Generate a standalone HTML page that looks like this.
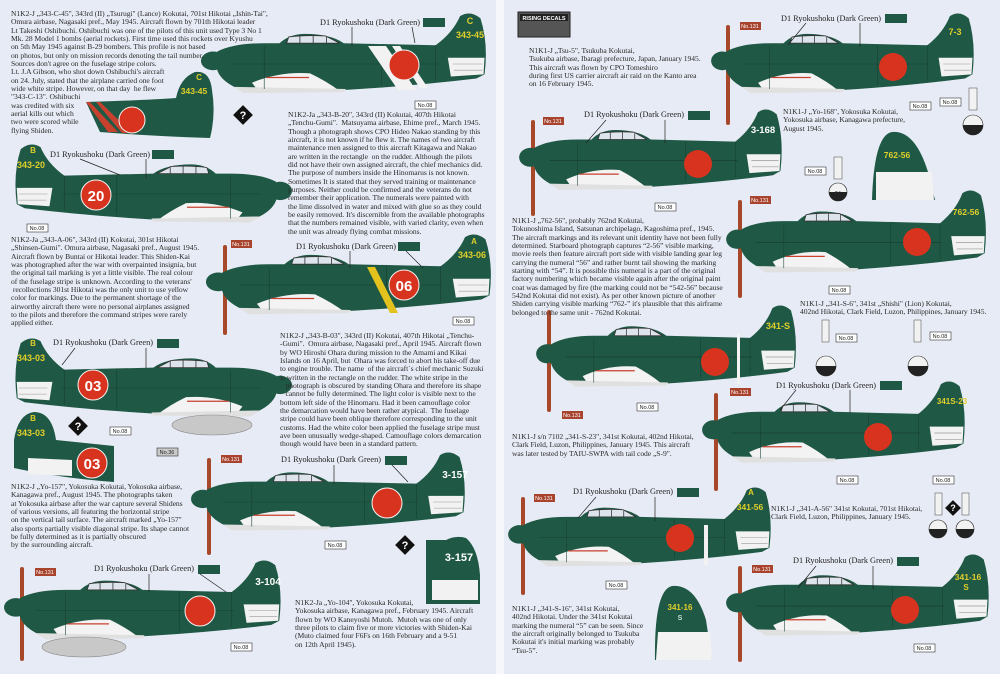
<!DOCTYPE html>
<html><head><meta charset="utf-8"><style>
html,body{margin:0;padding:0}
body{width:1000px;height:674px;position:relative;overflow:hidden;background:#e7ebf5;font-family:"Liberation Serif",serif}
.t{position:absolute;font-size:7.6px;line-height:8.35px;color:#2a2a2a;white-space:pre;letter-spacing:-0.05px}
svg{position:absolute;left:0;top:0}
</style></head><body>
<svg width="1000" height="674" viewBox="0 0 1000 674">
<defs>
<g id="pl">
<path d="M14,38 Q30,30 60,30 L75,30 Q85,21 100,21 Q125,21 138,30 L228,32 Q245,20 252,4 Q262,-2 272,6 Q280,30 276,60 L268,64 Q200,72 120,76 L40,76 Q18,68 14,56 Z" fill="#1f5845"/>
<path d="M82,30 L84,24 Q100,22 120,23 L134,30 Z" fill="#dde4ec" stroke="#333" stroke-width="0.8"/>
<path d="M95,23 V30 M108,23 V30 M121,24 V30" stroke="#333" stroke-width="0.8"/>
<path d="M48,68 Q75,57 105,59 Q122,67 134,76 L55,77 Z" fill="#f3f3f3"/>
<path d="M62,63 L104,63" stroke="#c8402e" stroke-width="1.2"/>
<path d="M30,72 L140,74 L138,77 L40,78 Z" fill="#e0e0e0"/>
<path d="M240,44 L276,44 L275,60 L243,62 Z" fill="#f2f2f2"/>
<path d="M245,50 H274 M246,56 H274" stroke="#999" stroke-width="0.6"/>
<path d="M60,33 V74 M175,32 V70 M228,32 V66 M30,50 H230" stroke="#173f33" stroke-width="0.6"/>
<ellipse cx="10" cy="47" rx="12" ry="9" fill="#1f5845"/>
</g>
<g id="q"><rect x="-7" y="-7" width="14" height="14" transform="rotate(45)" fill="#111"/><text x="0" y="4" font-family="Liberation Sans" font-weight="bold" font-size="11" fill="#fff" text-anchor="middle">?</text></g>
</defs>
<rect x="496" y="0" width="8" height="674" fill="#f6f7fb"/>

<use href="#pl" transform="translate(203,12) scale(1.02,1.04)"/>
<path d="M368,46 L386,46 L416,90 L398,90 Z M392,46 L400,46 L428,88 L420,88 Z" fill="#f2f2f2"/>
<circle cx="404" cy="65" r="15" fill="#d8331f" stroke="#f3f3f3" stroke-width="1"/>
<text x="470" y="24" font-family="Liberation Sans" font-weight="bold" font-size="9" fill="#e0cf2a" text-anchor="middle">C</text>
<text x="470" y="38" font-family="Liberation Sans" font-weight="bold" font-size="9" fill="#e0cf2a" text-anchor="middle">343-45</text>

<path d="M86,102 Q150,100 176,98 Q180,78 195,72 Q210,70 212,90 Q216,115 210,138 Q150,136 100,132 Z" fill="#1f5845"/>
<path d="M86,102 L90,102 L118,132 L108,132 Z M96,102 L100,102 L132,133 L122,133 Z" fill="#c8402e"/>
<circle cx="132" cy="120" r="13" fill="#d8331f" stroke="#f3f3f3" stroke-width="1"/>
<text x="199" y="80" font-family="Liberation Sans" font-weight="bold" font-size="8" fill="#e0cf2a" text-anchor="middle">C</text>
<text x="194" y="94" font-family="Liberation Sans" font-weight="bold" font-size="8.5" fill="#e0cf2a" text-anchor="middle">343-45</text>
<use href="#q" transform="translate(243,115)"/>

<use href="#pl" transform="translate(290,143) scale(-0.99,1.02)"/>
<circle cx="96" cy="195" r="15" fill="#d8331f" stroke="#f3f3f3" stroke-width="1"/>
<text x="96" y="201" font-family="Liberation Sans" font-weight="bold" font-size="15" fill="#fff" text-anchor="middle">20</text>
<text x="33" y="153" font-family="Liberation Sans" font-weight="bold" font-size="8" fill="#e0cf2a" text-anchor="middle">B</text>
<text x="31" y="168" font-family="Liberation Sans" font-weight="bold" font-size="9" fill="#e0cf2a" text-anchor="middle">343-20</text>

<rect x="223" y="245" width="4" height="90" rx="2" fill="#a8482a"/>
<use href="#pl" transform="translate(208,233) scale(1.02,1.04)"/>
<path d="M367,267 L375,267 L398,313 L390,313 Z" fill="#e3c21e"/>
<circle cx="404" cy="285" r="15" fill="#d8331f" stroke="#f3f3f3" stroke-width="1"/>
<text x="404" y="291" font-family="Liberation Sans" font-weight="bold" font-size="15" fill="#fff" text-anchor="middle">06</text>
<text x="474" y="244" font-family="Liberation Sans" font-weight="bold" font-size="8" fill="#e0cf2a" text-anchor="middle">A</text>
<text x="472" y="258" font-family="Liberation Sans" font-weight="bold" font-size="9" fill="#e0cf2a" text-anchor="middle">343-06</text>

<use href="#pl" transform="translate(290,337) scale(-0.99,1.02)"/>
<ellipse cx="212" cy="425" rx="40" ry="10" fill="#c8c8c8" stroke="#888" stroke-width="0.6"/>
<circle cx="93" cy="385" r="15" fill="#d8331f" stroke="#f3f3f3" stroke-width="1"/>
<text x="93" y="391" font-family="Liberation Sans" font-weight="bold" font-size="15" fill="#fff" text-anchor="middle">03</text>
<text x="33" y="346" font-family="Liberation Sans" font-weight="bold" font-size="8" fill="#e0cf2a" text-anchor="middle">B</text>
<text x="31" y="361" font-family="Liberation Sans" font-weight="bold" font-size="9" fill="#e0cf2a" text-anchor="middle">343-03</text>

<path d="M14,440 Q18,414 34,412 Q52,412 56,440 L114,446 L114,482 Q60,478 14,468 Z" fill="#1f5845"/>
<path d="M28,458 L72,460 L72,476 L28,474 Z" fill="#f2f2f2"/>
<circle cx="92" cy="463" r="15" fill="#d8331f" stroke="#f3f3f3" stroke-width="1"/>
<text x="92" y="469" font-family="Liberation Sans" font-weight="bold" font-size="15" fill="#fff" text-anchor="middle">03</text>
<text x="33" y="421" font-family="Liberation Sans" font-weight="bold" font-size="8" fill="#e0cf2a" text-anchor="middle">B</text>
<text x="31" y="436" font-family="Liberation Sans" font-weight="bold" font-size="9" fill="#e0cf2a" text-anchor="middle">343-03</text>
<use href="#q" transform="translate(78,426)"/>

<rect x="207" y="458" width="4" height="97" rx="2" fill="#a8482a"/>
<use href="#pl" transform="translate(193,451) scale(0.98,1.02)"/>
<circle cx="387" cy="503" r="15" fill="#d8331f" stroke="#f3f3f3" stroke-width="1"/>
<text x="455" y="478" font-family="Liberation Sans" font-weight="bold" font-size="10" fill="#fff" text-anchor="middle">3-157</text>
<use href="#q" transform="translate(405,545)"/>
<path d="M426,540 L446,540 Q456,535 466,538 Q478,548 480,575 L480,604 L426,604 Z" fill="#1f5845"/>
<path d="M432,580 L478,580 L478,600 L432,600 Z" fill="#f2f2f2"/>
<text x="459" y="561" font-family="Liberation Sans" font-weight="bold" font-size="11" fill="#fff" text-anchor="middle">3-157</text>

<rect x="20" y="567" width="4" height="94" rx="2" fill="#a8482a"/>
<use href="#pl" transform="translate(6,559) scale(0.99,1.03)"/>
<ellipse cx="84" cy="647" rx="42" ry="10" fill="#c8c8c8" stroke="#888" stroke-width="0.6"/>
<circle cx="200" cy="611" r="15" fill="#d8331f" stroke="#f3f3f3" stroke-width="1"/>
<text x="268" y="585" font-family="Liberation Sans" font-weight="bold" font-size="10" fill="#fff" text-anchor="middle">3-104</text>

<rect x="518" y="12" width="52" height="25" fill="#555" stroke="#222"/>
<rect x="520" y="14" width="48" height="7" fill="#222"/>
<text x="544" y="20" font-family="Liberation Sans" font-weight="bold" font-size="5.5" fill="#fff" text-anchor="middle">RISING DECALS</text>

<rect x="726" y="25" width="4" height="100" rx="2" fill="#a8482a"/>
<use href="#pl" transform="translate(713,12) scale(0.94,1.04)"/>
<circle cx="893" cy="67" r="14" fill="#d8331f"/>
<text x="955" y="35" font-family="Liberation Sans" font-weight="bold" font-size="9" fill="#e0cf2a" text-anchor="middle">7-3</text>

<rect x="531" y="120" width="4" height="96" rx="2" fill="#a8482a"/>
<use href="#pl" transform="translate(521,108) scale(0.94,1.05)"/>
<circle cx="698" cy="164" r="14" fill="#d8331f"/>
<text x="763" y="133" font-family="Liberation Sans" font-weight="bold" font-size="9.5" fill="#fff" text-anchor="middle">3-168</text>

<path d="M872,200 Q874,135 892,132 Q915,130 928,172 L935,200 Z" fill="#1f5845"/>
<path d="M876,172 L932,172 L934,200 L876,200 Z" fill="#f2f2f2"/>
<text x="897" y="158" font-family="Liberation Sans" font-weight="bold" font-size="8.5" fill="#e0cf2a" text-anchor="middle">762-56</text>
<rect x="834" y="157" width="8" height="22" fill="#f2f2f2" stroke="#444" stroke-width="0.5"/>
<circle cx="838" cy="192" r="9" fill="#f2f2f2" stroke="#222" stroke-width="0.6"/>
<path d="M829,192 A9,9 0 0 0 847,192 Z" fill="#222"/>
<text x="838" y="196" font-family="Liberation Sans" font-weight="bold" font-size="6" fill="#222" text-anchor="middle">56</text>
<rect x="969" y="88" width="8" height="22" fill="#f2f2f2" stroke="#444" stroke-width="0.5"/>
<circle cx="973" cy="125" r="10" fill="#f2f2f2" stroke="#222" stroke-width="0.6"/>
<path d="M963,125 A10,10 0 0 0 983,125 Z" fill="#222"/>

<rect x="738" y="200" width="4" height="98" rx="2" fill="#a8482a"/>
<use href="#pl" transform="translate(728,189) scale(0.93,1.07)"/>
<circle cx="917" cy="242" r="14" fill="#d8331f"/>
<text x="966" y="215" font-family="Liberation Sans" font-weight="bold" font-size="8.5" fill="#e0cf2a" text-anchor="middle">762-56</text>

<rect x="547" y="310" width="4" height="102" rx="2" fill="#a8482a"/>
<use href="#pl" transform="translate(538,304) scale(0.93,1.06)"/>
<path d="M737,334 L740,334 L740,384 L737,384 Z" fill="#f2f2f2"/>
<circle cx="715" cy="362" r="14" fill="#d8331f"/>
<text x="778" y="329" font-family="Liberation Sans" font-weight="bold" font-size="9" fill="#e0cf2a" text-anchor="middle">341-S</text>
<rect x="822" y="320" width="7" height="22" fill="#f2f2f2" stroke="#444" stroke-width="0.5"/>
<circle cx="826" cy="366" r="10" fill="#f2f2f2" stroke="#222" stroke-width="0.6"/>
<path d="M816,366 A10,10 0 0 0 836,366 Z" fill="#222"/>
<rect x="914" y="320" width="7" height="22" fill="#f2f2f2" stroke="#444" stroke-width="0.5"/>
<circle cx="918" cy="366" r="10" fill="#f2f2f2" stroke="#222" stroke-width="0.6"/>
<path d="M908,366 A10,10 0 0 0 928,366 Z" fill="#222"/>

<rect x="714" y="393" width="4" height="98" rx="2" fill="#a8482a"/>
<use href="#pl" transform="translate(704,380) scale(0.94,1.06)"/>
<circle cx="878" cy="437" r="14" fill="#d8331f"/>
<text x="952" y="404" font-family="Liberation Sans" font-weight="bold" font-size="8" fill="#e0cf2a" text-anchor="middle">341S-23</text>

<rect x="521" y="497" width="4" height="98" rx="2" fill="#a8482a"/>
<use href="#pl" transform="translate(510,486) scale(0.94,1.03)"/>
<path d="M704,525 L708,525 L708,565 L704,565 Z" fill="#f2f2f2"/>
<circle cx="680" cy="538" r="14" fill="#d8331f"/>
<text x="751" y="495" font-family="Liberation Sans" font-weight="bold" font-size="8" fill="#e0cf2a" text-anchor="middle">A</text>
<text x="750" y="510" font-family="Liberation Sans" font-weight="bold" font-size="8.5" fill="#e0cf2a" text-anchor="middle">341-56</text>
<rect x="935" y="493" width="7" height="22" fill="#f2f2f2" stroke="#444" stroke-width="0.5"/>
<circle cx="938" cy="529" r="9" fill="#f2f2f2" stroke="#222" stroke-width="0.6"/>
<path d="M929,529 A9,9 0 0 0 947,529 Z" fill="#222"/>
<rect x="962" y="493" width="7" height="22" fill="#f2f2f2" stroke="#444" stroke-width="0.5"/>
<circle cx="965" cy="529" r="9" fill="#f2f2f2" stroke="#222" stroke-width="0.6"/>
<path d="M956,529 A9,9 0 0 0 974,529 Z" fill="#222"/>
<use href="#q" transform="translate(953,508) scale(0.8)"/>

<rect x="738" y="566" width="4" height="96" rx="2" fill="#a8482a"/>
<use href="#pl" transform="translate(728,553) scale(0.94,1.06)"/>
<circle cx="905" cy="610" r="14" fill="#d8331f"/>
<text x="968" y="580" font-family="Liberation Sans" font-weight="bold" font-size="8.5" fill="#e0cf2a" text-anchor="middle">341-16</text>
<text x="966" y="590" font-family="Liberation Sans" font-weight="bold" font-size="8" fill="#e0cf2a" text-anchor="middle">S</text>

<path d="M655,660 Q654,590 672,586 Q695,584 706,620 L712,660 Z" fill="#1f5845"/>
<path d="M658,632 L710,632 L712,660 L656,660 Z" fill="#f2f2f2"/>
<text x="680" y="610" font-family="Liberation Sans" font-weight="bold" font-size="8" fill="#e0cf2a" text-anchor="middle">341-16</text>
<text x="680" y="620" font-family="Liberation Sans" font-weight="bold" font-size="7" fill="#bfe0d0" text-anchor="middle">S</text>

<g font-family="Liberation Serif" font-size="8.5" fill="#222">
<text x="320" y="25" textLength="100" lengthAdjust="spacingAndGlyphs">D1 Ryokushoku (Dark Green)</text><rect x="423" y="18" width="22" height="9" fill="#1f5845"/><path d="M352,27 V46 M412,27 L415,43" stroke="#222" stroke-width="0.7"/>
<text x="50" y="157" textLength="100" lengthAdjust="spacingAndGlyphs">D1 Ryokushoku (Dark Green)</text><rect x="152" y="150" width="22" height="9" fill="#1f5845"/><path d="M146,159 V178 M80,159 L120,175" stroke="#222" stroke-width="0.7"/>
<text x="296" y="249" textLength="100" lengthAdjust="spacingAndGlyphs">D1 Ryokushoku (Dark Green)</text><rect x="398" y="242" width="22" height="9" fill="#1f5845"/><path d="M350,251 V268 M406,251 L423,268" stroke="#222" stroke-width="0.7"/>
<text x="53" y="345" textLength="100" lengthAdjust="spacingAndGlyphs">D1 Ryokushoku (Dark Green)</text><rect x="157" y="339" width="22" height="9" fill="#1f5845"/><path d="M146,348 V368 M75,348 L62,365" stroke="#222" stroke-width="0.7"/>
<text x="281" y="462" textLength="100" lengthAdjust="spacingAndGlyphs">D1 Ryokushoku (Dark Green)</text><rect x="385" y="456" width="22" height="9" fill="#1f5845"/><path d="M334,465 V484 M392,465 L408,482" stroke="#222" stroke-width="0.7"/>
<text x="94" y="571" textLength="100" lengthAdjust="spacingAndGlyphs">D1 Ryokushoku (Dark Green)</text><rect x="198" y="565" width="22" height="9" fill="#1f5845"/><path d="M149,574 V592 M200,574 L226,592" stroke="#222" stroke-width="0.7"/>
<text x="781" y="21" textLength="100" lengthAdjust="spacingAndGlyphs">D1 Ryokushoku (Dark Green)</text><rect x="885" y="14" width="22" height="9" fill="#1f5845"/><path d="M860,23 V47 M806,23 L788,45" stroke="#222" stroke-width="0.7"/>
<text x="584" y="117" textLength="100" lengthAdjust="spacingAndGlyphs">D1 Ryokushoku (Dark Green)</text><rect x="688" y="111" width="22" height="9" fill="#1f5845"/><path d="M665,120 V143 M606,120 L586,143" stroke="#222" stroke-width="0.7"/>
<text x="776" y="388" textLength="100" lengthAdjust="spacingAndGlyphs">D1 Ryokushoku (Dark Green)</text><rect x="880" y="381" width="22" height="9" fill="#1f5845"/><path d="M850,390 V413 M796,390 L780,410" stroke="#222" stroke-width="0.7"/>
<text x="573" y="494" textLength="100" lengthAdjust="spacingAndGlyphs">D1 Ryokushoku (Dark Green)</text><rect x="677" y="488" width="22" height="9" fill="#1f5845"/><path d="M655,497 V521 M596,497 L578,518" stroke="#222" stroke-width="0.7"/>
<text x="793" y="563" textLength="100" lengthAdjust="spacingAndGlyphs">D1 Ryokushoku (Dark Green)</text><rect x="897" y="557" width="22" height="9" fill="#1f5845"/><path d="M873,566 V589 M816,566 L798,588" stroke="#222" stroke-width="0.7"/>
</g>

<g font-family="Liberation Sans" font-size="5.5" text-anchor="middle">
<g fill="#fff" stroke="#333" stroke-width="0.6"><rect x="415" y="101" width="21" height="8"/><rect x="27" y="224" width="21" height="8"/><rect x="453" y="317" width="21" height="8"/><rect x="110" y="427" width="21" height="8"/><rect x="325" y="541" width="21" height="8"/><rect x="231" y="643" width="21" height="8"/><rect x="910" y="102" width="21" height="8"/><rect x="940" y="98" width="21" height="8"/><rect x="655" y="203" width="21" height="8"/><rect x="805" y="167" width="21" height="8"/><rect x="829" y="286" width="21" height="8"/><rect x="637" y="403" width="21" height="8"/><rect x="837" y="476" width="21" height="8"/><rect x="933" y="476" width="21" height="8"/><rect x="606" y="581" width="21" height="8"/><rect x="914" y="644" width="21" height="8"/><rect x="836" y="334" width="21" height="8"/><rect x="930" y="332" width="21" height="8"/></g>
<rect x="157" y="448" width="21" height="8" fill="#c9c9c9" stroke="#333" stroke-width="0.6"/>
<g fill="#222"><text x="425" y="107">No.08</text><text x="37" y="230">No.08</text><text x="463" y="323">No.08</text><text x="120" y="433">No.08</text><text x="335" y="547">No.08</text><text x="241" y="649">No.08</text><text x="920" y="108">No.08</text><text x="950" y="104">No.08</text><text x="665" y="209">No.08</text><text x="815" y="173">No.08</text><text x="839" y="292">No.08</text><text x="647" y="409">No.08</text><text x="847" y="482">No.08</text><text x="943" y="482">No.08</text><text x="616" y="587">No.08</text><text x="924" y="650">No.08</text><text x="846" y="340">No.08</text><text x="940" y="338">No.08</text><text x="167" y="454">No.36</text></g>
<g fill="#a8432e"><rect x="231" y="240" width="21" height="8"/><rect x="221" y="455" width="21" height="8"/><rect x="35" y="568" width="21" height="8"/><rect x="740" y="22" width="21" height="8"/><rect x="543" y="117" width="21" height="8"/><rect x="750" y="196" width="21" height="8"/><rect x="562" y="411" width="21" height="8"/><rect x="730" y="388" width="21" height="8"/><rect x="534" y="494" width="21" height="8"/><rect x="752" y="565" width="21" height="8"/></g>
<g fill="#fff"><text x="241" y="246">No.131</text><text x="231" y="461">No.131</text><text x="45" y="574">No.131</text><text x="750" y="28">No.131</text><text x="553" y="123">No.131</text><text x="760" y="202">No.131</text><text x="572" y="417">No.131</text><text x="740" y="394">No.131</text><text x="544" y="500">No.131</text><text x="762" y="571">No.131</text></g>
</g>
</svg>

<div class="t" style="left:11px;top:10px">N1K2-J „343-C-45", 343rd (II) „Tsurugi" (Lance) Kokutai, 701st Hikotai „Ishin-Tai",
Omura airbase, Nagasaki pref., May 1945. Aircraft flown by 701th Hikotai leader
Lt Takeshi Oshibuchi. Oshibuchi was one of the pilots of this unit used Type 3 No 1
Mk. 28 Model 1 bombs (aerial rockets). First time used this rockets over Kyushu
on 5th May 1945 against B-29 bombers. This profile is not based
on photos, but only on mission records denoting the tail number.
Sources don't agree on the fuselage stripe colors.
Lt. J.A Gibson, who shot down Oshibuchi's aircraft
on 24. July, stated that the airplane carried one foot
wide white stripe. However, on that day  he flew
"343-C-13". Oshibuchi
was credited with six
aerial kills out which
two were scored while
flying Shiden.</div>

<div class="t" style="left:288px;top:111px">N1K2-Ja „343-B-20", 343rd (II) Kokutai, 407th Hikotai
„Tenchu-Gumi".  Matsuyama airbase, Ehime pref., March 1945.
Though a photograph shows CPO Hideo Nakao standing by this
aircraft, it is not known if he flew it. The names of two aircraft
maintenance men assigned to this aircraft Kitagawa and Nakao
are written in the rectangle  on the rudder. Although the pilots
did not have their own assigned aircraft, the chief mechanics did.
The purpose of numbers inside the Hinomarus is not known.
Sometimes It is stated that they served training or maintenance
purposes. Neither could be confirmed and the veterans do not
remember their application. The numerals were painted with
the lime dissolved in water and mixed with glue so as they could
be easily removed. It's discernible from the available photographs
that the numbers remained visible, with varied clarity, even when
the unit was already flying combat missions.</div>

<div class="t" style="left:11px;top:236px">N1K2-Ja „343-A-06", 343rd (II) Kokutai, 301st Hikotai
„Shinsen-Gumi". Omura airbase, Nagasaki pref., August 1945.
Aircraft flown by Buntai or Hikotai leader. This Shiden-Kai
was photographed after the war with overpainted insignia, but
the original tail marking is yet a little visible. The real colour
of the fuselage stripe is unknown. According to the veterans'
 recollections 301st Hikotai was the only unit to use yellow
color for markings. Due to the permanent shortage of the
airworthy aircraft there were no personal airplanes assigned
to the pilots and therefore the command stripes were rarely
applied either.</div>

<div class="t" style="left:280px;top:332px">N1K2-J „343-B-03", 343rd (II) Kokutai, 407th Hikotai „Tenchu-
-Gumi".  Omura airbase, Nagasaki pref., April 1945. Aircraft flown
by WO Hiroshi Ohara during mission to the Amami and Kikai
Islands on 16 April, but  Ohara was forced to abort his take-off due
to engine trouble. The name  of the aircraft´s chief mechanic Suzuki
is written in the rectangle on the rudder. The white stripe in the
   photograph is obscured by standing Ohara and therefore its shape
   cannot be fully determined. The light color is visible next to the
bottom left side of the Hinomaru. Had it been camouflage color
the demarcation would have been rather atypical.  The fuselage
stripe could have been oblique therefore corresponding to the unit
customs. Had the white color been applied the fuselage stripe must
ave been unusually wedge-shaped. Camouflage colors demarcation
though would have been in a standard pattern.</div>

<div class="t" style="left:11px;top:483px">N1K2-J „Yo-157", Yokosuka Kokutai, Yokosuka airbase,
Kanagawa pref., August 1945. The photographs taken
at Yokosuka airbase after the war capture several Shidens
of various versions, all featuring the horizontal stripe
on the vertical tail surface. The aircraft marked „Yo-157"
also sports partially visible diagonal stripe. Its shape cannot
be fully determined as it is partially obscured
by the surrounding aircraft.</div>

<div class="t" style="left:295px;top:599px">N1K2-Ja „Yo-104", Yokosuka Kokutai,
Yokosuka airbase, Kanagawa pref., February 1945. Aircraft
flown by WO Kaneyoshi Mutoh.  Mutoh was one of only
three pilots to claim five or more victories with Shiden-Kai
(Muto claimed four F6Fs on 16th February and a 9-51
on 12th April 1945).</div>

<div class="t" style="left:529px;top:47px">N1K1-J „Tsu-5", Tsukuba Kokutai,
Tsukuba airbase, Ibaragi prefecture, Japan, January 1945.
This aircraft was flown by CPO Tomeshiro
during first US carrier aircraft air raid on the Kanto area
on 16 February 1945.</div>

<div class="t" style="left:783px;top:108px">N1K1-J „Yo-168", Yokosuka Kokutai,
Yokosuka airbase, Kanagawa prefecture,
August 1945.</div>

<div class="t" style="left:512px;top:217px">N1K1-J „762-56", probably 762nd Kokutai,
Tokunoshima Island, Satsunan archipelago, Kagoshima pref., 1945.
The aircraft markings and its relevant unit identity have not been fully
determined. Starboard photograph captures “2-56” visible marking,
movie reels then feature aircraft port side with visible landing gear leg
carrying the numeral “56” and rather burnt tail showing the marking
starting with “54”. It is possible this numeral is a part of the original
factory numbering which became visible again after the original paint
coat was damaged by fire (the marking could not be “542-56” because
542nd Kokutai did not exist). As per other known picture of another
Shiden carrying visible marking “762-” it's plausible that this airframe
belonged to the same unit - 762nd Kokutai.</div>

<div class="t" style="left:800px;top:300px">N1K1-J „341-S-6", 341st „Shishi" (Lion) Kokutai,
402nd Hikotai, Clark Field, Luzon, Philippines, January 1945.</div>

<div class="t" style="left:512px;top:433px">N1K1-J s/n 7102 „341-S-23", 341st Kokutai, 402nd Hikotai,
Clark Field, Luzon, Philippines, January 1945. This aircraft
was later tested by TAIU-SWPA with tail code „S-9".</div>

<div class="t" style="left:771px;top:505px">N1K1-J „341-A-56" 341st Kokutai, 701st Hikotai,
Clark Field, Luzon, Philippines, January 1945.</div>

<div class="t" style="left:512px;top:605px">N1K1-J „341-S-16", 341st Kokutai,
402nd Hikotai. Under the 341st Kokutai
marking the numeral “5” can be seen. Since
the aircraft originally belonged to Tsukuba
Kokutai it's initial marking was probably
“Tsu-5”.</div>
</body></html>
